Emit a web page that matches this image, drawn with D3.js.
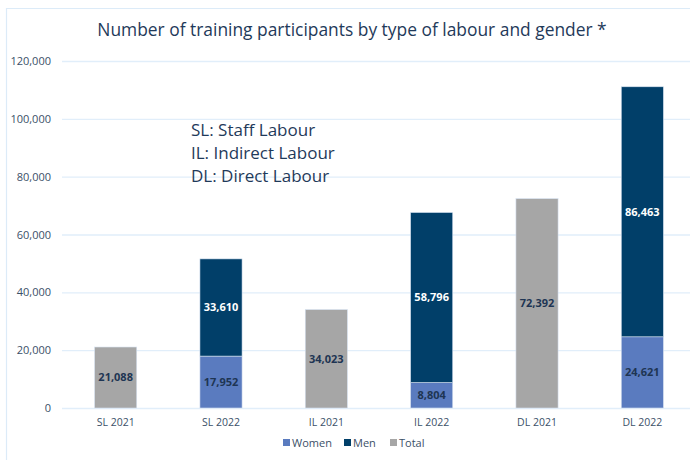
<!DOCTYPE html>
<html><head><meta charset="utf-8">
<script src="https://cdn.jsdelivr.net/npm/d3@7"></script>
<style>body{margin:0;background:#fff;} svg{display:block;}</style>
</head><body>
<svg id="c" width="690" height="460"></svg>
<script>
const categories = ["SL 2021","SL 2022","IL 2021","IL 2022","DL 2021","DL 2022"];
const women = [null, 17952, null, 8804, null, 24621];
const men = [null, 33610, null, 58796, null, 86463];
const total = [21088, null, 34023, null, 72392, null];
const yTicks = [0,20000,40000,60000,80000,100000,120000];
const seriesNames = ["Women","Men","Total"];
const colors = {Women:"#5a7bbf", Men:"#013f69", Total:"#a6a6a6"};
const noteLines = ["SL: Staff Labour","IL: Indirect Labour","DL: Direct Labour"];
const title = "Number of training participants by type of labour and gender *";

const svg = d3.select("#c");
const font = "'Open Sans', sans-serif";
const txt = "#1f3a5a";

// frame
svg.append("path").attr("d","M6.5,460 V8.5 H690").attr("fill","none").attr("stroke","#dcebf8").attr("stroke-width",1.2);

const x = d3.scaleBand().domain(categories).range([63,695]).paddingInner(0.6).paddingOuter(0.3);
const y = d3.scaleLinear().domain([0,120000]).range([408,61]);

// grid
svg.append("g").selectAll("line").data(yTicks).join("line")
  .attr("x1",62).attr("x2",690).attr("y1",d=>y(d)+0.5).attr("y2",d=>y(d)+0.5)
  .attr("stroke","#e1eefa").attr("stroke-width",1.3);

// y axis labels
const yAxis = d3.axisLeft(y).tickValues(yTicks).tickSize(0).tickPadding(0).tickFormat(d3.format(","));
const ga = svg.append("g").attr("transform","translate(51,0)").call(yAxis);
ga.select(".domain").remove();
ga.selectAll("text").attr("font-family",font).attr("font-size",11).attr("fill","#3b5068");

// x axis labels
const xAxis = d3.axisBottom(x).tickSize(0).tickPadding(0);
const gx = svg.append("g").attr("transform","translate(0,419)").call(xAxis);
gx.select(".domain").remove();
gx.selectAll("text").attr("font-family",font).attr("font-size",10.5).attr("fill","#3b5068");

// bars
const rows = categories.map((c,i)=>({c, w:women[i], m:men[i], t:total[i]}));
const segs = [];
rows.forEach(r=>{
  if(r.t!=null) segs.push({c:r.c, y0:0, y1:r.t, v:r.t, s:"Total"});
  if(r.w!=null) segs.push({c:r.c, y0:0, y1:r.w, v:r.w, s:"Women"});
  if(r.m!=null) segs.push({c:r.c, y0:r.w||0, y1:(r.w||0)+r.m, v:r.m, s:"Men"});
});
svg.append("g").selectAll("rect").data(segs).join("rect")
  .attr("x",d=>x(d.c)).attr("width",x.bandwidth())
  .attr("y",d=>y(d.y1)).attr("height",d=>y(d.y0)-y(d.y1))
  .attr("fill",d=>colors[d.s]).attr("stroke","#d6e2f0").attr("stroke-width",0.6);

svg.append("g").selectAll("text").data(segs).join("text")
  .attr("x",d=>x(d.c)+x.bandwidth()/2).attr("y",d=>(y(d.y0)+y(d.y1))/2)
  .attr("dy","0.35em").attr("text-anchor","middle")
  .attr("font-family",font).attr("font-size",11).attr("font-weight","bold")
  .attr("fill",d=>d.s==="Men"?"#ffffff":"#1e3553")
  .text(d=>d3.format(",")(d.v));

// title
svg.append("text").attr("x",352).attr("y",36).attr("text-anchor","middle")
  .attr("font-family",font).attr("font-size",17.4).attr("fill",txt).text(title);

// note
svg.append("g").selectAll("text").data(noteLines).join("text")
  .attr("x",191).attr("y",(d,i)=>136+i*23)
  .attr("font-family",font).attr("font-size",17).attr("fill",txt).text(d=>d);

// legend
const leg = svg.append("g").attr("transform","translate(283,443)");
let lx = 0;
const widths = [52,37,30];
seriesNames.forEach((s,i)=>{
  leg.append("rect").attr("x",lx).attr("y",-4).attr("width",7).attr("height",7).attr("fill",colors[s]);
  leg.append("text").attr("x",lx+9).attr("y",0).attr("dy","0.35em")
    .attr("font-family",font).attr("font-size",11).attr("fill","#3b5068").text(s);
  lx += widths[i]+9;
});
</script>
</body></html>
